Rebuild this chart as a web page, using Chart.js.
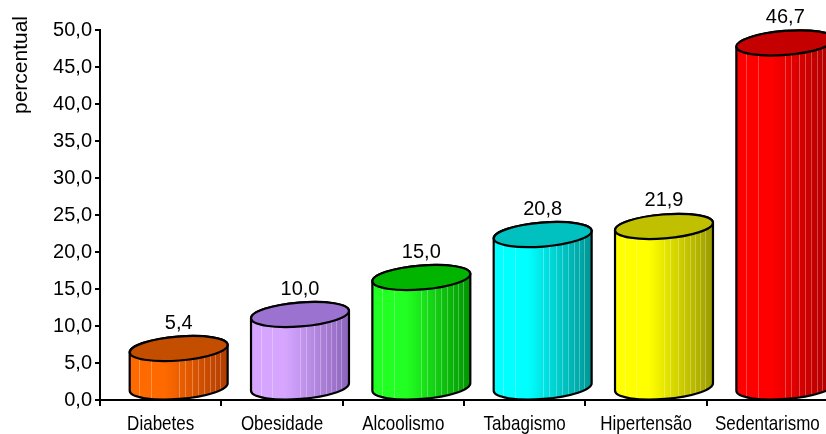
<!DOCTYPE html>
<html>
<head>
<meta charset="utf-8">
<script src="https://cdn.jsdelivr.net/npm/chart.js@4/dist/chart.umd.min.js"></script>
<style>
  html, body { margin: 0; padding: 0; background: #fff; overflow: hidden; }
  #wrap { width: 830px; height: 434px; position: relative; }
</style>
</head>
<body>
<div id="wrap"><canvas id="c" width="830" height="434"></canvas></div>
<script>
// ---- data ----
const categories = ['Diabetes', 'Obesidade', 'Alcoolismo', 'Tabagismo', 'Hipertensão', 'Sedentarismo'];
const values = [5.4, 10.0, 15.0, 20.8, 21.9, 46.7];
const yMin = 0;
const yMax = 50;
const yStep = 5;
const yTitle = 'percentual';

// ---- styles ----
const sideLight = ['#ff6a00', '#d6a6ff', '#22ff22', '#00ffff', '#ffff00', '#ff0000'];
const sideDark  = ['#b03c00', '#8c64bc', '#009400', '#009494', '#9a9a00', '#a80000'];
const topColor  = ['#c44e00', '#9c72d0', '#00b400', '#00c0c0', '#c0c000', '#c40000'];

const fmt = v => v.toFixed(1).replace('.', ',');
const FONT = '"Liberation Sans", Arial, sans-serif';

const cylinderPlugin = {
  id: 'cyl',
  afterDatasetsDraw(chart) {
    const ctx = chart.ctx;
    const meta = chart.getDatasetMeta(0);
    const rot = -0.08;
    meta.data.forEach((el, i) => {
      const rx = el.width / 2;
      const ry = 12;
      const cx = el.x + 18;
      const cyT = el.y - 11.5;
      const cyB = el.base - 12;
      const ox = rx * Math.cos(rot), oy = rx * Math.sin(rot);
      const bodyPath = () => {
        ctx.beginPath();
        ctx.ellipse(cx, cyB, rx, ry, rot, 0, Math.PI, false);
        ctx.lineTo(cx - ox, cyT - oy);
        ctx.ellipse(cx, cyT, rx, ry, rot, Math.PI, 2 * Math.PI, false);
        ctx.closePath();
      };
      ctx.save();
      bodyPath();
      const g = ctx.createLinearGradient(cx - rx, 0, cx + rx, 0);
      g.addColorStop(0, sideLight[i]);
      g.addColorStop(0.35, sideLight[i]);
      g.addColorStop(1, sideDark[i]);
      ctx.fillStyle = g;
      ctx.fill();
      // stripes
      ctx.save();
      ctx.clip();
      ctx.strokeStyle = 'rgba(255,255,255,0.28)';
      ctx.lineWidth = 1;
      [0.1, 0.22, 0.5, 0.56, 0.64, 0.7, 0.76, 0.82, 0.87, 0.92].forEach(f => {
        const x = Math.round(cx - rx + f * 2 * rx) + 0.5;
        ctx.beginPath();
        ctx.moveTo(x, cyT - 20);
        ctx.lineTo(x, cyB + 20);
        ctx.stroke();
      });
      ctx.restore();
      bodyPath();
      ctx.lineWidth = 2.2;
      ctx.strokeStyle = '#000';
      ctx.stroke();
      // top
      ctx.beginPath();
      ctx.ellipse(cx, cyT, rx, ry, rot, 0, 2 * Math.PI);
      ctx.fillStyle = topColor[i];
      ctx.fill();
      ctx.stroke();
      // value label
      ctx.fillStyle = '#000';
      ctx.font = '20px ' + FONT;
      ctx.textAlign = 'center';
      ctx.textBaseline = 'middle';
      ctx.fillText(fmt(values[i]), cx, el.y - 37);
      ctx.restore();
    });
  },
  afterDraw(chart) {
    const ctx = chart.ctx;
    // category labels (slightly tall, as in the original)
    const xs = chart.scales.x;
    ctx.save();
    ctx.fillStyle = '#000';
    ctx.font = '17px ' + FONT;
    ctx.textAlign = 'center';
    ctx.textBaseline = 'alphabetic';
    categories.forEach((lab, i) => {
      const x = xs.getPixelForTick(i);
      ctx.save();
      ctx.translate(x, 430);
      ctx.scale(1, 1.2);
      ctx.fillText(lab, 0, 0);
      ctx.restore();
    });
    ctx.restore();
    // y-axis title
    ctx.save();
    ctx.translate(21, 65);
    ctx.rotate(-Math.PI / 2);
    ctx.fillStyle = '#000';
    ctx.font = '21px ' + FONT;
    ctx.textAlign = 'center';
    ctx.textBaseline = 'middle';
    ctx.fillText(yTitle, 0, 0);
    ctx.restore();
  }
};

new Chart(document.getElementById('c'), {
  type: 'bar',
  data: {
    labels: categories,
    datasets: [{
      data: values,
      backgroundColor: 'rgba(0,0,0,0)',
      borderWidth: 0,
      categoryPercentage: 1,
      barPercentage: 0.81
    }]
  },
  options: {
    responsive: false,
    animation: false,
    devicePixelRatio: 1,
    layout: { padding: { top: 30, right: 2, left: 0, bottom: 0 } },
    plugins: { legend: { display: false }, tooltip: { enabled: false } },
    scales: {
      x: {
        afterFit(s) { s.height = 34; },
        border: { display: true, color: '#000', width: 2 },
        grid: { display: true, drawOnChartArea: false, drawTicks: true, offset: true, tickLength: 6, color: '#000', lineWidth: 2 },
        ticks: { display: false }
      },
      y: {
        min: yMin, max: yMax,
        afterFit(s) { s.width = 100; },
        border: { display: true, color: '#000', width: 2 },
        grid: { display: true, drawOnChartArea: false, tickLength: 5, color: '#000', lineWidth: 2 },
        ticks: { stepSize: yStep, color: '#000', font: { family: FONT, size: 20 }, padding: 3, callback: v => fmt(v) }
      }
    }
  },
  plugins: [cylinderPlugin]
});
</script>
</body>
</html>
